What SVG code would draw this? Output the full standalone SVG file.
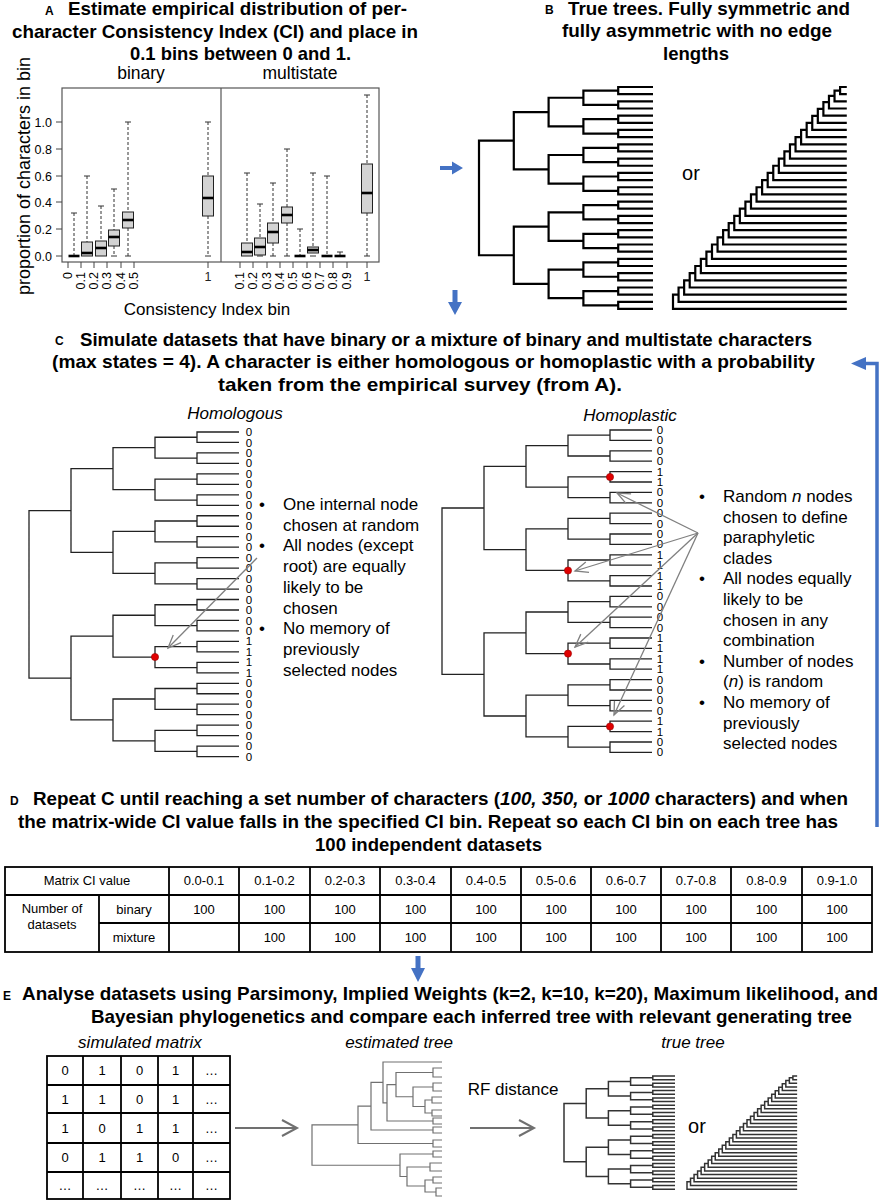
<svg xmlns="http://www.w3.org/2000/svg" xmlns:xlink="http://www.w3.org/1999/xlink" width="879" height="1200" viewBox="0 0 879 1200">
<style>
text{font-family:"Liberation Sans",Arial,sans-serif;fill:#000}
.ttl{font-weight:bold;font-size:18.5px}
.lab{font-weight:bold;font-size:12px}
.body{font-size:17px}
.it{font-style:italic}
.tick{font-size:12.5px;fill:#222}
.tip{font-size:11.5px;text-anchor:middle;fill:#222}
.cell{font-size:13px;text-anchor:middle}
.mid{text-anchor:middle}
.end{text-anchor:end}
.wh{stroke:#333;stroke-width:1;stroke-dasharray:3 2}
.cap{stroke:#333;stroke-width:1}
.box{fill:#d3d3d3;stroke:#222;stroke-width:1}
.med{stroke:#000;stroke-width:2.6}
.tk{stroke:#444;stroke-width:1}
.grid{stroke:#000;stroke-width:1.8;fill:none}
.garr{stroke:#808080;stroke-width:1.3;fill:none;marker-end:url(#ah)}
.garrL{stroke:#707070;stroke-width:2;fill:none;marker-end:url(#ahL)}
.blue{fill:#4472c4}
.dot{fill:#e00000;stroke:#900;stroke-width:0.6}
</style>
<defs>
<path id="sym" fill="none" vector-effect="non-scaling-stroke" d="M5 0H4V1H5M5 2H4V3H5M5 4H4V5H5M5 6H4V7H5M5 8H4V9H5M5 10H4V11H5M5 12H4V13H5M5 14H4V15H5M5 16H4V17H5M5 18H4V19H5M5 20H4V21H5M5 22H4V23H5M5 24H4V25H5M5 26H4V27H5M5 28H4V29H5M5 30H4V31H5M4 0.5H3V2.5H4M4 4.5H3V6.5H4M4 8.5H3V10.5H4M4 12.5H3V14.5H4M4 16.5H3V18.5H4M4 20.5H3V22.5H4M4 24.5H3V26.5H4M4 28.5H3V30.5H4M3 1.5H2V5.5H3M3 9.5H2V13.5H3M3 17.5H2V21.5H3M3 25.5H2V29.5H3M2 3.5H1V11.5H2M2 19.5H1V27.5H2M1 7.5H0V23.5H1"/>
<path id="cat" fill="none" vector-effect="non-scaling-stroke" d="M31.2 0H30V1H31.2M30 0.5H29V2H31.2M29 1.25H28V3H31.2M28 2.125H27V4H31.2M27 3.06H26V5H31.2M26 4.03H25V6H31.2M25 5.02H24V7H31.2M24 6H23V8H31.2M23 7H22V9H31.2M22 8H21V10H31.2M21 9H20V11H31.2M20 10H19V12H31.2M19 11H18V13H31.2M18 12H17V14H31.2M17 13H16V15H31.2M16 14H15V16H31.2M15 15H14V17H31.2M14 16H13V18H31.2M13 17H12V19H31.2M12 18H11V20H31.2M11 19H10V21H31.2M10 20H9V22H31.2M9 21H8V23H31.2M8 22H7V24H31.2M7 23H6V25H31.2M6 24H5V26H31.2M5 25H4V27H31.2M4 26H3V28H31.2M3 27H2V29H31.2M2 28H1V30H31.2M1 29H0V31H31.2"/>
<marker id="ah" markerUnits="userSpaceOnUse" markerWidth="16" markerHeight="14" viewBox="0 0 16 14" refX="14" refY="7" orient="auto"><path d="M1 1.5L14 7L1 12.5" fill="none" stroke="#808080" stroke-width="1.3"/></marker>
<marker id="ahL" markerUnits="userSpaceOnUse" markerWidth="20" markerHeight="20" viewBox="0 0 20 20" refX="17" refY="10" orient="auto"><path d="M2 2L17 10L2 18" fill="none" stroke="#707070" stroke-width="2"/></marker>
</defs>
<rect width="879" height="1200" fill="#fff"/>

<g id="panelA">
<text class="lab" x="45" y="15">A</text>
<text class="ttl" x="68" y="15" textLength="339" lengthAdjust="spacingAndGlyphs">Estimate empirical distribution of per-</text>
<text class="ttl" x="12" y="38" textLength="406" lengthAdjust="spacingAndGlyphs">character Consistency Index (CI) and place in</text>
<text class="ttl" x="130" y="60" textLength="221" lengthAdjust="spacingAndGlyphs">0.1 bins between 0 and 1.</text>
<text class="mid" x="141" y="79" font-size="17.5">binary</text>
<text class="mid" x="300" y="79" font-size="17.5">multistate</text>
<text class="mid" transform="translate(30 176) rotate(-90)" font-size="18">proportion of characters in bin</text>
<text class="mid" x="207" y="315" font-size="17">Consistency Index bin</text>
<rect x="62" y="88" width="317" height="174" fill="none" stroke="#555" stroke-width="1.2"/>
<line x1="221" y1="88" x2="221" y2="262" stroke="#555" stroke-width="1.2"/>
<g class="tk">
<line x1="56" y1="122" x2="62" y2="122"/><line x1="56" y1="149" x2="62" y2="149"/><line x1="56" y1="176" x2="62" y2="176"/><line x1="56" y1="202" x2="62" y2="202"/><line x1="56" y1="229" x2="62" y2="229"/><line x1="56" y1="256" x2="62" y2="256"/>
<line x1="68" y1="262" x2="68" y2="268"/><line x1="81" y1="262" x2="81" y2="268"/><line x1="94" y1="262" x2="94" y2="268"/><line x1="107" y1="262" x2="107" y2="268"/><line x1="121" y1="262" x2="121" y2="268"/><line x1="134" y1="262" x2="134" y2="268"/><line x1="208" y1="262" x2="208" y2="268"/>
<line x1="240" y1="262" x2="240" y2="268"/><line x1="253" y1="262" x2="253" y2="268"/><line x1="267" y1="262" x2="267" y2="268"/><line x1="280" y1="262" x2="280" y2="268"/><line x1="293" y1="262" x2="293" y2="268"/><line x1="307" y1="262" x2="307" y2="268"/><line x1="320" y1="262" x2="320" y2="268"/><line x1="333" y1="262" x2="333" y2="268"/><line x1="347" y1="262" x2="347" y2="268"/><line x1="367" y1="262" x2="367" y2="268"/>
</g>
<g class="tick end">
<text x="52" y="126.5">1.0</text><text x="52" y="153.5">0.8</text><text x="52" y="180.5">0.6</text><text x="52" y="206.5">0.4</text><text x="52" y="233.5">0.2</text><text x="52" y="260.5">0.0</text>
<text transform="translate(72.3 272) rotate(-90)">0</text>
<text transform="translate(85.3 272) rotate(-90)">0.1</text>
<text transform="translate(98.3 272) rotate(-90)">0.2</text>
<text transform="translate(111.3 272) rotate(-90)">0.3</text>
<text transform="translate(125.3 272) rotate(-90)">0.4</text>
<text transform="translate(138.3 272) rotate(-90)">0.5</text>
<text transform="translate(244.3 272) rotate(-90)">0.1</text>
<text transform="translate(257.3 272) rotate(-90)">0.2</text>
<text transform="translate(271.3 272) rotate(-90)">0.3</text>
<text transform="translate(284.3 272) rotate(-90)">0.4</text>
<text transform="translate(297.3 272) rotate(-90)">0.5</text>
<text transform="translate(311.3 272) rotate(-90)">0.6</text>
<text transform="translate(324.3 272) rotate(-90)">0.7</text>
<text transform="translate(337.3 272) rotate(-90)">0.8</text>
<text transform="translate(351.3 272) rotate(-90)">0.9</text>
</g>
<text class="tick mid" x="208" y="281">1</text>
<text class="tick mid" x="367" y="281">1</text>
<!-- binary boxes -->
<line class="wh" x1="74" y1="213" x2="74" y2="256"/><line class="cap" x1="71" y1="213" x2="77" y2="213"/><line class="med" x1="68.5" y1="256" x2="79.5" y2="256"/>
<line class="wh" x1="87" y1="176" x2="87" y2="242"/><line class="cap" x1="84" y1="176" x2="90" y2="176"/><rect class="box" x="81.5" y="242" width="11" height="14"/><line class="med" x1="81.5" y1="253" x2="92.5" y2="253"/>
<line class="wh" x1="101" y1="206" x2="101" y2="241"/><line class="cap" x1="98" y1="206" x2="104" y2="206"/><rect class="box" x="95.5" y="241" width="11" height="15"/><line class="med" x1="95.5" y1="248" x2="106.5" y2="248"/>
<line class="wh" x1="114" y1="189" x2="114" y2="230"/><line class="wh" x1="114" y1="246" x2="114" y2="256"/><line class="cap" x1="111" y1="189" x2="117" y2="189"/><line class="cap" x1="111" y1="256" x2="117" y2="256"/><rect class="box" x="108.5" y="230" width="11" height="16"/><line class="med" x1="108.5" y1="237" x2="119.5" y2="237"/>
<line class="wh" x1="128" y1="122" x2="128" y2="212"/><line class="wh" x1="128" y1="228" x2="128" y2="256"/><line class="cap" x1="125" y1="122" x2="131" y2="122"/><line class="cap" x1="125" y1="256" x2="131" y2="256"/><rect class="box" x="122.5" y="212" width="11" height="16"/><line class="med" x1="122.5" y1="220" x2="133.5" y2="220"/>
<line class="wh" x1="208" y1="122" x2="208" y2="176"/><line class="wh" x1="208" y1="216" x2="208" y2="256"/><line class="cap" x1="205" y1="122" x2="211" y2="122"/><line class="cap" x1="205" y1="256" x2="211" y2="256"/><rect class="box" x="202.5" y="176" width="11" height="40"/><line class="med" x1="202.5" y1="198" x2="213.5" y2="198"/>
<!-- multistate boxes -->
<line class="wh" x1="247" y1="173" x2="247" y2="243"/><line class="cap" x1="244" y1="173" x2="250" y2="173"/><rect class="box" x="241.5" y="243" width="11" height="13"/><line class="med" x1="241.5" y1="252" x2="252.5" y2="252"/>
<line class="wh" x1="260" y1="204" x2="260" y2="238"/><line class="cap" x1="257" y1="204" x2="263" y2="204"/><line class="cap" x1="257" y1="256" x2="263" y2="256"/><rect class="box" x="254.5" y="238" width="11" height="17"/><line class="med" x1="254.5" y1="247" x2="265.5" y2="247"/>
<line class="wh" x1="273" y1="183" x2="273" y2="223"/><line class="wh" x1="273" y1="243" x2="273" y2="256"/><line class="cap" x1="270" y1="183" x2="276" y2="183"/><line class="cap" x1="270" y1="256" x2="276" y2="256"/><rect class="box" x="267.5" y="223" width="11" height="20"/><line class="med" x1="267.5" y1="232" x2="278.5" y2="232"/>
<line class="wh" x1="287" y1="149" x2="287" y2="207"/><line class="wh" x1="287" y1="223" x2="287" y2="256"/><line class="cap" x1="284" y1="149" x2="290" y2="149"/><line class="cap" x1="284" y1="256" x2="290" y2="256"/><rect class="box" x="281.5" y="207" width="11" height="16"/><line class="med" x1="281.5" y1="215" x2="292.5" y2="215"/>
<line class="wh" x1="300" y1="229" x2="300" y2="256"/><line class="cap" x1="297" y1="229" x2="303" y2="229"/><line class="med" x1="294.5" y1="256" x2="305.5" y2="256"/>
<line class="wh" x1="313" y1="173" x2="313" y2="247"/><line class="cap" x1="310" y1="173" x2="316" y2="173"/><line class="cap" x1="310" y1="256" x2="316" y2="256"/><rect class="box" x="307.5" y="247" width="11" height="6"/><line class="med" x1="307.5" y1="250" x2="318.5" y2="250"/>
<line class="wh" x1="327" y1="176" x2="327" y2="256"/><line class="cap" x1="324" y1="176" x2="330" y2="176"/><line class="med" x1="321.5" y1="256" x2="332.5" y2="256"/>
<line class="wh" x1="340" y1="252" x2="340" y2="256"/><line class="cap" x1="337" y1="252" x2="343" y2="252"/><line class="med" x1="334.5" y1="256" x2="345.5" y2="256"/>
<line class="wh" x1="367" y1="95" x2="367" y2="164"/><line class="wh" x1="367" y1="213" x2="367" y2="256"/><line class="cap" x1="364" y1="95" x2="370" y2="95"/><line class="cap" x1="364" y1="256" x2="370" y2="256"/><rect class="box" x="361.5" y="164" width="11" height="49"/><line class="med" x1="361.5" y1="193" x2="372.5" y2="193"/>
</g>

<g id="panelB">
<text class="lab" x="545" y="14">B</text>
<text class="ttl" x="568" y="15" textLength="282" lengthAdjust="spacingAndGlyphs">True trees. Fully symmetric and</text>
<text class="ttl" x="562" y="37" textLength="270" lengthAdjust="spacingAndGlyphs">fully asymmetric with no edge</text>
<text class="ttl" x="663" y="60" textLength="66" lengthAdjust="spacingAndGlyphs">lengths</text>
<use xlink:href="#sym" href="#sym" transform="translate(479 87) scale(34.8 7.16)" stroke="#000" stroke-width="2.2"/>
<text class="mid" x="691" y="180" font-size="20">or</text>
<use xlink:href="#cat" href="#cat" transform="translate(673 87) scale(5.57 7.16)" stroke="#000" stroke-width="2.2"/>
</g>

<g id="panelC">
<text class="lab" x="55" y="345">C</text>
<text class="ttl" x="80" y="346" textLength="732" lengthAdjust="spacingAndGlyphs">Simulate datasets that have binary or a mixture of binary and multistate characters</text>
<text class="ttl" x="52" y="368" textLength="763" lengthAdjust="spacingAndGlyphs">(max states = 4). A character is either homologous or homoplastic with a probability</text>
<text class="ttl" x="218" y="391" textLength="404" lengthAdjust="spacingAndGlyphs">taken from the empirical survey (from A).</text>
<text class="mid it" x="235" y="419" font-size="17">Homologous</text>
<text class="mid it" x="630" y="421" font-size="17">Homoplastic</text>
<use xlink:href="#sym" href="#sym" transform="translate(29 432) scale(42 10.47)" stroke="#222" stroke-width="1.3"/>
<use xlink:href="#sym" href="#sym" transform="translate(442 430) scale(42 10.4)" stroke="#222" stroke-width="1.3"/>
<g class="tip">
<text x="249" y="436">0</text><text x="249" y="446.5">0</text><text x="249" y="456.9">0</text><text x="249" y="467.4">0</text><text x="249" y="477.9">0</text><text x="249" y="488.4">0</text><text x="249" y="498.8">0</text><text x="249" y="509.3">0</text><text x="249" y="519.8">0</text><text x="249" y="530.2">0</text><text x="249" y="540.7">0</text><text x="249" y="551.2">0</text><text x="249" y="561.6">0</text><text x="249" y="572.1">0</text><text x="249" y="582.6">0</text><text x="249" y="593.1">0</text><text x="249" y="603.5">0</text><text x="249" y="614">0</text><text x="249" y="624.5">0</text><text x="249" y="634.9">0</text><text x="249" y="645.4">1</text><text x="249" y="655.9">1</text><text x="249" y="666.3">1</text><text x="249" y="676.8">1</text><text x="249" y="687.3">0</text><text x="249" y="697.8">0</text><text x="249" y="708.2">0</text><text x="249" y="718.7">0</text><text x="249" y="729.2">0</text><text x="249" y="739.6">0</text><text x="249" y="750.1">0</text><text x="249" y="760.6">0</text>
<text x="660" y="434">0</text><text x="660" y="444.4">0</text><text x="660" y="454.8">0</text><text x="660" y="465.2">0</text><text x="660" y="475.6">1</text><text x="660" y="486">1</text><text x="660" y="496.4">0</text><text x="660" y="506.8">0</text><text x="660" y="517.2">0</text><text x="660" y="527.6">0</text><text x="660" y="538">0</text><text x="660" y="548.4">0</text><text x="660" y="558.8">1</text><text x="660" y="569.2">1</text><text x="660" y="579.6">1</text><text x="660" y="590">1</text><text x="660" y="600.4">0</text><text x="660" y="610.8">0</text><text x="660" y="621.2">0</text><text x="660" y="631.6">0</text><text x="660" y="642">1</text><text x="660" y="652.4">1</text><text x="660" y="662.8">1</text><text x="660" y="673.2">1</text><text x="660" y="683.6">0</text><text x="660" y="694">0</text><text x="660" y="704.4">0</text><text x="660" y="714.8">0</text><text x="660" y="725.2">1</text><text x="660" y="735.6">1</text><text x="660" y="746">0</text><text x="660" y="756.4">0</text>
</g>
<circle class="dot" cx="155" cy="657" r="3.6"/>
<circle class="dot" cx="610" cy="477" r="3.6"/>
<circle class="dot" cx="568" cy="570.5" r="3.6"/>
<circle class="dot" cx="568" cy="653.6" r="3.6"/>
<circle class="dot" cx="610" cy="726.5" r="3.6"/>
<g class="body">
<text class="mid" x="262" y="510">•</text><text class="mid" x="262" y="551.4">•</text><text class="mid" x="262" y="634">•</text>
<text x="283" y="510">One internal node</text>
<text x="283" y="530.7">chosen at random</text>
<text x="283" y="551.4">All nodes (except</text>
<text x="283" y="572">root) are equally</text>
<text x="283" y="592.8">likely to be</text>
<text x="283" y="613.5">chosen</text>
<text x="283" y="634">No memory of</text>
<text x="283" y="655">previously</text>
<text x="283" y="675.6">selected nodes</text>
<text class="mid" x="702" y="502">•</text><text class="mid" x="702" y="584.3">•</text><text class="mid" x="702" y="666.8">•</text><text class="mid" x="702" y="708">•</text>
<text x="723" y="502">Random <tspan font-style="italic">n</tspan> nodes</text>
<text x="723" y="522.5">chosen to define</text>
<text x="723" y="543">paraphyletic</text>
<text x="723" y="563.7">clades</text>
<text x="723" y="584.3">All nodes equally</text>
<text x="723" y="605">likely to be</text>
<text x="723" y="625.6">chosen in any</text>
<text x="723" y="646.2">combination</text>
<text x="723" y="666.8">Number of nodes</text>
<text x="723" y="687.4">(<tspan font-style="italic">n</tspan>) is random</text>
<text x="723" y="708">No memory of</text>
<text x="723" y="728.6">previously</text>
<text x="723" y="749.2">selected nodes</text>
</g>
</g>

<g id="panelD">
<text class="lab" x="10" y="805">D</text>
<text class="ttl" x="33" y="805" textLength="815" lengthAdjust="spacingAndGlyphs">Repeat C until reaching a set number of characters (<tspan font-style="italic">100, 350,</tspan> or <tspan font-style="italic">1000</tspan> characters) and when</text>
<text class="ttl" x="18" y="828" textLength="820" lengthAdjust="spacingAndGlyphs">the matrix-wide CI value falls in the specified CI bin. Repeat so each CI bin on each tree has</text>
<text class="ttl" x="315" y="851" textLength="227" lengthAdjust="spacingAndGlyphs">100 independent datasets</text>
<rect class="grid" x="5" y="867" width="867" height="85"/>
<g class="grid">
<line x1="5" y1="895" x2="872" y2="895"/><line x1="99" y1="923" x2="872" y2="923"/><line x1="99" y1="895" x2="99" y2="952"/>
<line x1="169" y1="867" x2="169" y2="952"/><line x1="239" y1="867" x2="239" y2="952"/><line x1="310" y1="867" x2="310" y2="952"/><line x1="380" y1="867" x2="380" y2="952"/><line x1="451" y1="867" x2="451" y2="952"/><line x1="521" y1="867" x2="521" y2="952"/><line x1="591" y1="867" x2="591" y2="952"/><line x1="661" y1="867" x2="661" y2="952"/><line x1="731" y1="867" x2="731" y2="952"/><line x1="802" y1="867" x2="802" y2="952"/>
</g>
<g class="cell">
<text x="87" y="885">Matrix CI value</text>
<text x="204" y="885">0.0-0.1</text><text x="274.5" y="885">0.1-0.2</text><text x="345" y="885">0.2-0.3</text><text x="415.5" y="885">0.3-0.4</text><text x="486" y="885">0.4-0.5</text><text x="556" y="885">0.5-0.6</text><text x="626" y="885">0.6-0.7</text><text x="696" y="885">0.7-0.8</text><text x="766.5" y="885">0.8-0.9</text><text x="837" y="885">0.9-1.0</text>
<text x="52" y="913">Number of</text><text x="52" y="929">datasets</text>
<text x="134" y="914">binary</text><text x="134" y="942">mixture</text>
<text x="204" y="914">100</text><text x="274.5" y="914">100</text><text x="345" y="914">100</text><text x="415.5" y="914">100</text><text x="486" y="914">100</text><text x="556" y="914">100</text><text x="626" y="914">100</text><text x="696" y="914">100</text><text x="766.5" y="914">100</text><text x="837" y="914">100</text>
<text x="274.5" y="942">100</text><text x="345" y="942">100</text><text x="415.5" y="942">100</text><text x="486" y="942">100</text><text x="556" y="942">100</text><text x="626" y="942">100</text><text x="696" y="942">100</text><text x="766.5" y="942">100</text><text x="837" y="942">100</text>
</g>
</g>

<g id="panelE">
<text class="lab" x="3" y="1000">E</text>
<text class="ttl" x="22" y="1000" textLength="856" lengthAdjust="spacingAndGlyphs">Analyse datasets using Parsimony, Implied Weights (k=2, k=10, k=20), Maximum likelihood, and</text>
<text class="ttl" x="91" y="1023" textLength="761" lengthAdjust="spacingAndGlyphs">Bayesian phylogenetics and compare each inferred tree with relevant generating tree</text>
<text class="mid it" x="140" y="1048" font-size="17">simulated matrix</text>
<text class="mid it" x="399" y="1048" font-size="17">estimated tree</text>
<text class="mid it" x="693" y="1048" font-size="17">true tree</text>
<rect class="grid" x="47" y="1056" width="183" height="143"/>
<g class="grid">
<line x1="83" y1="1056" x2="83" y2="1199"/><line x1="121" y1="1056" x2="121" y2="1199"/><line x1="158" y1="1056" x2="158" y2="1199"/><line x1="193" y1="1056" x2="193" y2="1199"/>
<line x1="47" y1="1085" x2="230" y2="1085"/><line x1="47" y1="1113" x2="230" y2="1113"/><line x1="47" y1="1143" x2="230" y2="1143"/><line x1="47" y1="1172" x2="230" y2="1172"/>
</g>
<g class="cell">
<text x="65" y="1075">0</text><text x="102" y="1075">1</text><text x="139.5" y="1075">0</text><text x="175.5" y="1075">1</text><text x="211.5" y="1075">…</text>
<text x="65" y="1103.5">1</text><text x="102" y="1103.5">1</text><text x="139.5" y="1103.5">0</text><text x="175.5" y="1103.5">1</text><text x="211.5" y="1103.5">…</text>
<text x="65" y="1132.5">1</text><text x="102" y="1132.5">0</text><text x="139.5" y="1132.5">1</text><text x="175.5" y="1132.5">1</text><text x="211.5" y="1132.5">…</text>
<text x="65" y="1162">0</text><text x="102" y="1162">1</text><text x="139.5" y="1162">1</text><text x="175.5" y="1162">0</text><text x="211.5" y="1162">…</text>
<text x="65" y="1190">…</text><text x="102" y="1190">…</text><text x="139.5" y="1190">…</text><text x="175.5" y="1190">…</text><text x="211.5" y="1190">…</text>
</g>
<path fill="none" stroke="#707070" stroke-width="1.2" d="M442 1068H433V1077H442M442 1083H433V1091H442M442 1097H432V1103H442M442 1110H432V1116H442M442 1118H433V1124H442M442 1127H433V1133H442M442 1140H433V1147H442M442 1151H433V1157H442M442 1163H430V1171H442M442 1177H433V1183H442M442 1188H436V1196H442M432 1100H425V1113H432M433 1087H413V1106.5H425M433 1072.5H396V1096.75H413M396 1084.6H387V1121H433M442 1062H383V1102.8H387M383 1082.4H371V1130H433M371 1106.2H358V1143.5H433M433 1180H425V1192H436M430 1167H407V1186H425M433 1154H400V1176.5H407M358 1124.9H312V1165.25H400"/>
<text class="mid" x="513" y="1095" font-size="17">RF distance</text>
<use xlink:href="#sym" href="#sym" transform="translate(564 1076) scale(22.2 3.65)" stroke="#333" stroke-width="1.5"/>
<text class="mid" x="697" y="1133" font-size="20">or</text>
<use xlink:href="#cat" href="#cat" transform="translate(687 1076) scale(3.53 3.65)" stroke="#333" stroke-width="1.5"/>
</g>

<g id="connectors">
<polygon class="blue" points="440,166 452,166 452,161.5 463,168 452,174.5 452,170 440,170"/>
<polygon class="blue" points="452.5,290 457.5,290 457.5,302 462,302 455,315 448,302 452.5,302"/>
<polygon class="blue" points="415.5,956 420.5,956 420.5,968 425,968 418,982 411,968 415.5,968"/>
<path d="M877 827V363.5H864" fill="none" stroke="#4472c4" stroke-width="3.5"/>
<polygon class="blue" points="851,363.5 866,357 866,370"/>
<line class="garr" x1="257" y1="558" x2="168" y2="648"/>
<line class="garr" x1="698" y1="533" x2="617" y2="493"/>
<line class="garr" x1="698" y1="533" x2="575" y2="571"/>
<line class="garr" x1="698" y1="533" x2="575" y2="647"/>
<line class="garr" x1="698" y1="533" x2="614" y2="715"/>
<line class="garrL" x1="235" y1="1128" x2="297" y2="1128"/>
<line class="garrL" x1="470" y1="1128" x2="534" y2="1128"/>
</g>
</svg>
